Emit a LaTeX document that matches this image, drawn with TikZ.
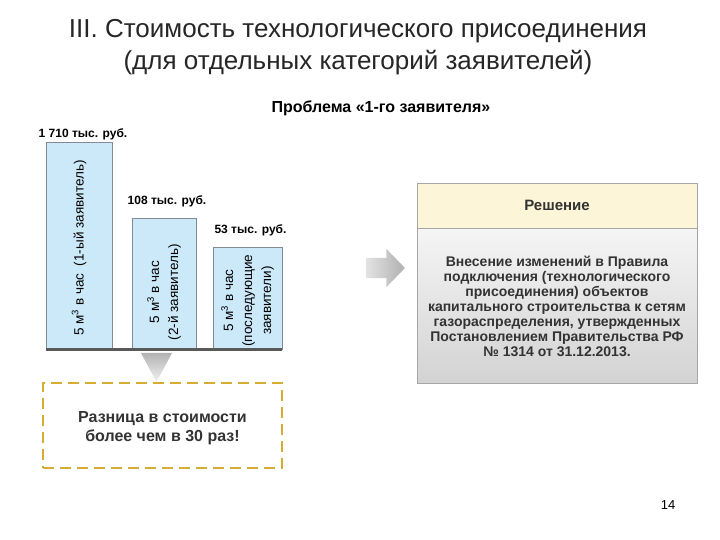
\documentclass[tikz,border=0pt]{standalone}
\usepackage{fontspec}
\setmainfont{Liberation Sans}
\usepackage{xcolor}
\usetikzlibrary{positioning, shapes.arrows}
\definecolor{barblue}{RGB}{204,233,250}
\definecolor{bargray}{RGB}{130,140,150}
\definecolor{gold}{RGB}{214,172,50}
\definecolor{cream}{RGB}{253,245,215}
\definecolor{darktext}{RGB}{51,51,51}
\tikzstyle{bar} = [draw=bargray, fill=barblue, line width=0.8pt, anchor=south, inner sep=0pt]
\tikzstyle{price} = [font=\fontsize{12}{14}\selectfont\bfseries, inner sep=1pt]

\begin{document}
\begin{tikzpicture}[x=1pt, y=1pt,
    bartext/.style={rotate=90, align=center, font=\fontsize{13.5}{19}\selectfont},
    panel/.style={draw=gray!70, line width=0.8pt, minimum width=280pt, inner sep=0pt},
    boxtext/.style={align=center, text=darktext, font=\fontsize{14}{15}\selectfont\bfseries}]
    \useasboundingbox (0,0) rectangle (720,540);

    % Title
    \node[font=\fontsize{26}{30}\selectfont, text=black!85, anchor=base] (title1) at (358,502) {III. Стоимость технологического присоединения};
    \node[font=\fontsize{26}{30}\selectfont, text=black!85, anchor=base] (title2) at (358,470) {(для отдельных категорий заявителей)};
    \node[font=\fontsize{16}{18}\selectfont\bfseries] (problem) at (381,432) {Проблема «1-го заявителя»};

    % Bars
    \node[bar, minimum width=66pt, minimum height=207pt] (bar1) at (79,190) {};
    \node[bar, minimum width=64pt, minimum height=131pt] (bar2) at (164,190) {};
    \node[bar, minimum width=69pt, minimum height=102pt] (bar3) at (247.5,190) {};
    \draw[line width=3pt, gray!70!black] (bar1.south west) -- (bar3.south east);

    \node[bartext] (bar1txt) at ([yshift=-2pt]bar1.center) {5 м\textsuperscript{3} в час\ \ (1-ый заявитель)};
    \node[bartext] (bar2txt) at ([yshift=-8pt]bar2.center) {5 м\textsuperscript{3} в час\\(2-й заявитель)};
    \node[bartext] (bar3txt) at ([yshift=-2pt]bar3.center) {5 м\textsuperscript{3} в час\\(последующие\\заявители)};

    % Prices
    \node[price, above=1pt of bar1.north, xshift=4pt] (price1) {1 710 тыс. руб.};
    \node[price, above=10pt of bar2.north, xshift=3pt] (price2) {108 тыс. руб.};
    \node[price, above=10pt of bar3.north, xshift=3pt] (price3) {53 тыс. руб.};

    % Down pointer and difference box
    \shade[top color=gray!60, bottom color=gray!10] (141,187) -- (172,187) -- (156.5,158) -- cycle;
    \coordinate (tip) at (156.5,158);
    \node[draw=gold, dashed, dash pattern=on 11pt off 6pt, line width=1.8pt,
          minimum width=239pt, minimum height=85pt, below=0pt of tip, xshift=6pt] (diff) {};
    \node[boxtext, font=\fontsize{16}{19}\selectfont\bfseries] (difftxt) at ([yshift=-3pt]diff.center) {Разница в стоимости\\более чем в 30 раз!};

    % Arrow to solution
    \node[single arrow, left color=gray!22, right color=gray!62, draw=none,
          minimum width=38pt, minimum height=39pt, single arrow head extend=9pt,
          single arrow tip angle=92, inner xsep=0pt, inner ysep=10pt] (arrow) at (380.5,272) {};

    % Solution panel
    \node[panel, fill=cream, minimum height=45pt] (solhead) at (557,334.5)
        {\fontsize{15}{17}\selectfont\bfseries\color{darktext}Решение};
    \node[panel, top color=gray!8, bottom color=gray!35, minimum height=155pt,
          below=0pt of solhead] (solbody) {};
    \node[boxtext] (soltxt) at ([yshift=0pt]solbody.center)
        {Внесение изменений в Правила\\подключения (технологического\\присоединения) объектов\\капитального строительства к сетям\\газораспределения, утвержденных\\Постановлением Правительства РФ\\№ 1314 от 31.12.2013.};

    % Page number
    \node[font=\fontsize{13}{15}\selectfont] (page) at (668,35) {14};

\end{tikzpicture}
\end{document}
